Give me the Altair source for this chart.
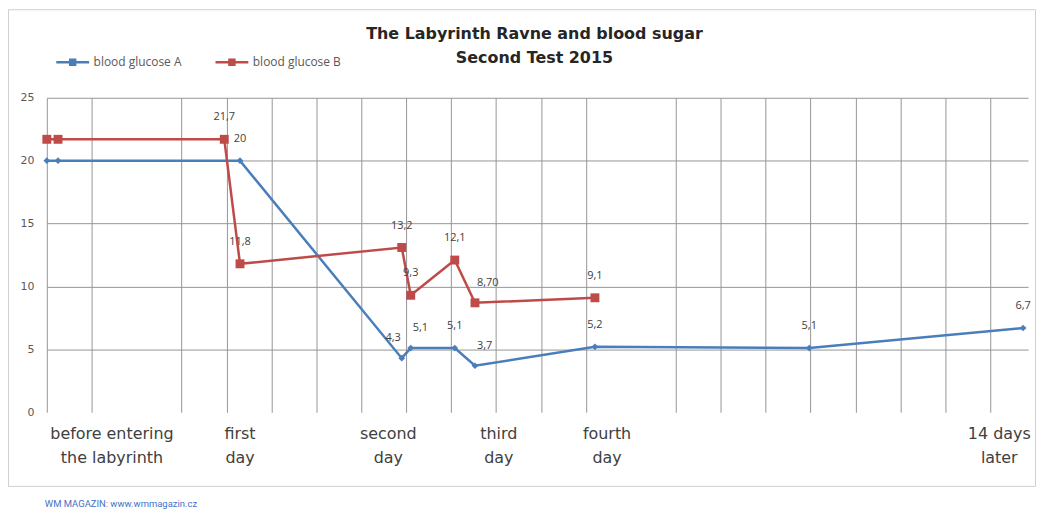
import altair as alt
import pandas as pd

title_lines = ["The Labyrinth Ravne and blood sugar", "Second Test 2015"]
series_names = ["blood glucose A", "blood glucose B"]
series_colors = ["#4A7EBB", "#BE4B48"]

a_x = [0, 0.25, 4.3, 7.9, 8.1, 9.08, 9.53, 12.2, 16.97, 21.73]
a_y = [20, 20, 20, 4.3, 5.1, 5.1, 3.7, 5.2, 5.1, 6.7]
a_lab = ["", "", "20", "4,3", "5,1", "5,1", "3,7", "5,2", "5,1", "6,7"]

b_x = [0, 0.25, 3.95, 4.3, 7.9, 8.1, 9.08, 9.53, 12.2]
b_y = [21.7, 21.7, 21.7, 11.8, 13.1, 9.3, 12.1, 8.7, 9.1]
b_lab = ["", "", "21,7", "11,8", "13,2", "9,3", "12,1", "8,70", "9,1"]

cat_x = [1.45, 4.3, 7.6, 10.06, 12.47, 21.2]
cat_labels = ["before entering\nthe labyrinth", "first\nday", "second\nday",
              "third\nday", "fourth\nday", "14 days\nlater"]

grid_x = [0, 1, 3, 4, 5, 6, 7, 8, 9, 10, 11, 12, 14, 15, 16, 17, 18, 19, 20, 21]
y_ticks = [0, 5, 10, 15, 20, 25]
footer = "WM MAGAZIN: www.wmmagazin.cz"

rows = []
for i, (x, y, l) in enumerate(zip(a_x, a_y, a_lab)):
    rows.append({"series": series_names[0], "key": "A", "x": x, "y": y, "label": l, "i": i})
for i, (x, y, l) in enumerate(zip(b_x, b_y, b_lab)):
    rows.append({"series": series_names[1], "key": "B", "x": x, "y": y, "label": l, "i": i})
df = pd.DataFrame(rows)
cats = pd.DataFrame({"x": cat_x, "label": cat_labels})

GRID = "#959595"
xscale = alt.Scale(domain=[0, 21.84], nice=False, zero=False)
yscale = alt.Scale(domain=[0, 25], nice=False)
X = alt.X("x:Q", scale=xscale,
          axis=alt.Axis(values=grid_x, labels=False, ticks=False, domain=False,
                        grid=True, gridColor=GRID, title=None))
Y = alt.Y("y:Q", scale=yscale,
          axis=alt.Axis(values=y_ticks, grid=True, gridColor=GRID, domain=False, ticks=False,
                        labelPadding=13, labelFontSize=11, labelColor="#595959", title=None,
                        labelFont="DejaVu Sans",
                        gridOpacity={"condition": {"test": "datum.value === 0", "value": 0}, "value": 1}))
cscale = alt.Scale(domain=series_names, range=series_colors)
stroke = alt.Stroke("series:N", scale=cscale,
                    legend=alt.Legend(orient="none", legendX=8, legendY=-54, direction="horizontal",
                                      title=None, symbolType="M-1,0H1M-0.15,-0.15H0.15V0.15H-0.15Z",
                                      symbolSize=1089, symbolStrokeWidth=2.5, labelFontSize=12,
                                      labelColor="#595959", labelOffset=3, columnPadding=28,
                                      padding=0))

lines = alt.Chart(df).mark_line(strokeWidth=2.5).encode(x=X, y=Y, stroke=stroke, order="i:Q")
points = alt.Chart(df).mark_point(filled=True, opacity=1).encode(
    x=X, y=Y,
    color=alt.Color("key:N", scale=alt.Scale(domain=["A", "B"], range=series_colors), legend=None),
    shape=alt.Shape("key:N", scale=alt.Scale(domain=["A", "B"], range=["diamond", "square"]), legend=None),
    size=alt.Size("key:N", scale=alt.Scale(domain=["A", "B"], range=[45, 80]), legend=None),
)

A, B = series_names
right_f = f"datum.series == '{A}' && datum.i == 3"
left_f = (f"(datum.series == '{A}' && (datum.i == 4 || datum.i == 6)) || "
          f"(datum.series == '{B}' && datum.i == 7)")
lab_base = alt.Chart(df).transform_filter("datum.label != ''")
lab_c = lab_base.transform_filter(f"!({right_f}) && !({left_f})").mark_text(
    dy=-22, fontSize=11, color="#404040").encode(x=X, y=Y, text="label:N")
lab_r = lab_base.transform_filter(right_f).mark_text(
    dy=-20, dx=-1, align="right", fontSize=11, color="#404040").encode(x=X, y=Y, text="label:N")
lab_l = lab_base.transform_filter(left_f).mark_text(
    dy=-20, dx=2, align="left", fontSize=11, color="#404040").encode(x=X, y=Y, text="label:N")

catText = alt.Chart(cats).mark_text(
    font="DejaVu Sans", fontSize=16, color="#404040", baseline="top", lineBreak="\n",
    lineHeight=24).encode(x=X, y=alt.value(330), text="label:N")
one = pd.DataFrame({"a": [0]})
border = alt.Chart(one).mark_rect(
    fill="transparent", stroke="#d0d0d0", strokeWidth=1).encode(
    x=alt.value(-38.5), x2=alt.value(993.5), y=alt.value(-88.5), y2=alt.value(390.5))
foot = alt.Chart(one).mark_text(
    align="left", baseline="middle", fontSize=9.5, font="Roboto", color="#4472C4").encode(
    x=alt.value(-2), y=alt.value(408), text=alt.value(footer))
title = alt.Chart(one).mark_text(
    align="center", baseline="top", font="DejaVu Sans", fontSize=16, fontWeight="bold",
    color="#262626", lineBreak="\n", lineHeight=24).encode(
    x=alt.value(490), y=alt.value(-72), text=alt.value("\n".join(title_lines)))

chart = alt.layer(border, lines, points, lab_c, lab_r, lab_l, catText, foot, title).properties(
    width=986, height=316,
    autosize=alt.AutoSizeParams(type="none"),
    padding={"left": 39, "top": 89, "right": 10, "bottom": 100},
).configure(font="Open Sans").configure_view(stroke=None)

chart.save("out.html", embed_options={"renderer": "svg", "actions": False})
